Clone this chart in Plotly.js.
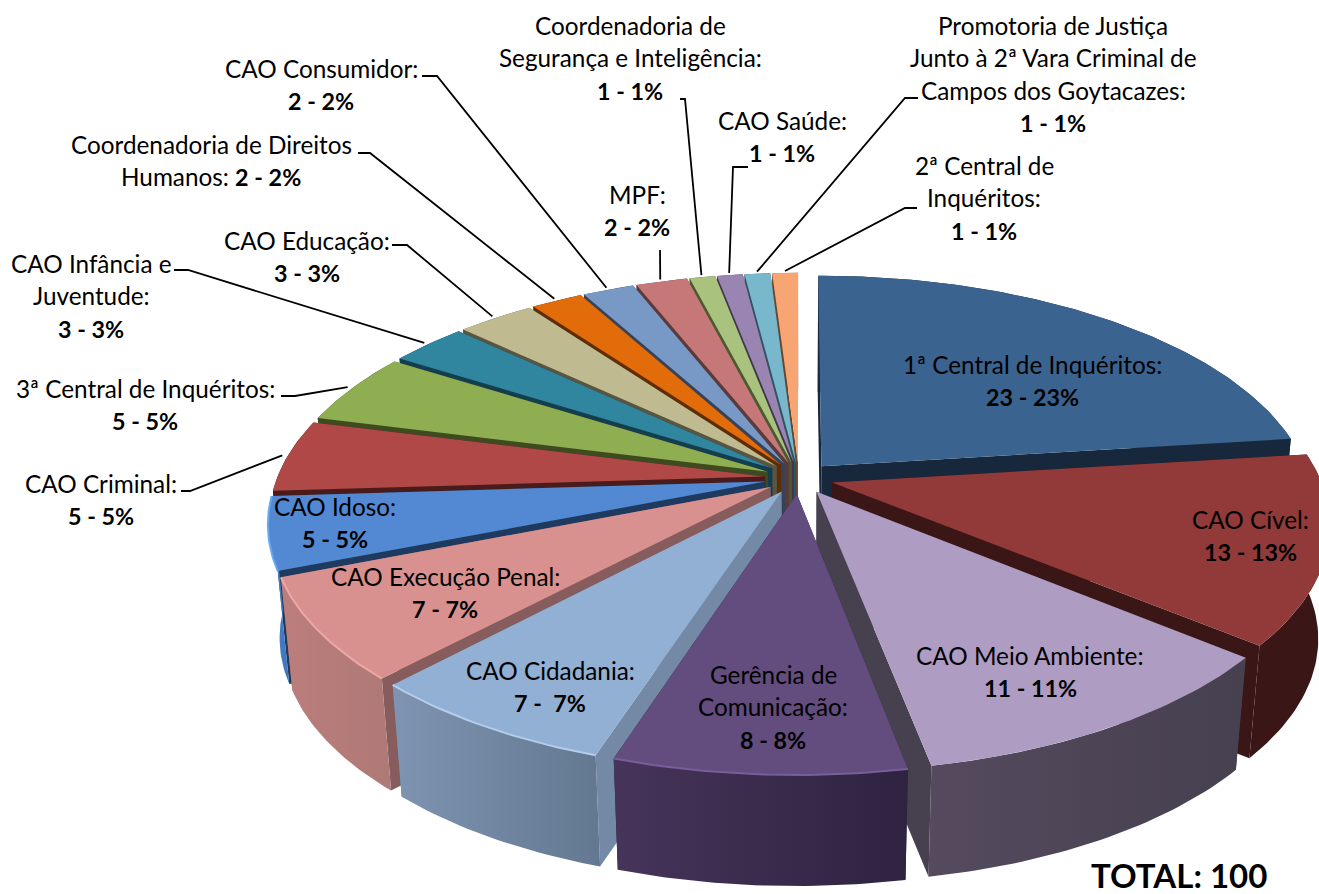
<!DOCTYPE html>
<html><head><meta charset="utf-8">
<script src="https://cdn.plot.ly/plotly-3.0.1.min.js"></script>
<style>html,body{margin:0;padding:0;background:#fff;overflow:hidden}#c{width:1319px;height:894px}</style>
</head><body><div id="c"></div>
<script>
// ---- data ----
const categories = ["1ª Central de Inquéritos","CAO Cível","CAO Meio Ambiente","Gerência de Comunicação","CAO Cidadania","CAO Execução Penal","CAO Idoso","CAO Criminal","3ª Central de Inquéritos","CAO Infância e Juventude","CAO Educação","Coordenadoria de Direitos Humanos","CAO Consumidor","MPF","Coordenadoria de Segurança e Inteligência","CAO Saúde","Promotoria de Justiça Junto à 2ª Vara Criminal de Campos dos Goytacazes","2ª Central de Inquéritos"];
const values = [23,13,11,8,7,7,5,5,5,3,3,2,2,2,1,1,1,1];
const labelLines = [
 ["1ª Central de Inquéritos:","<b>23 - 23%</b>"],
 ["CAO Cível:","<b>13 - 13%</b>"],
 ["CAO Meio Ambiente:","<b>11 - 11%</b>"],
 ["Gerência de","Comunicação:","<b>8 - 8%</b>"],
 ["CAO Cidadania:","<b>7 -  7%</b>"],
 ["CAO Execução Penal:","<b>7 - 7%</b>"],
 ["CAO Idoso:","<b>5 - 5%</b>"],
 ["CAO Criminal:","<b>5 - 5%</b>"],
 ["3ª Central de Inquéritos:","<b>5 - 5%</b>"],
 ["CAO Infância e","Juventude:","<b>3 - 3%</b>"],
 ["CAO Educação:","<b>3 - 3%</b>"],
 ["Coordenadoria de Direitos","Humanos: <b>2 - 2%</b>"],
 ["CAO Consumidor:","<b>2 - 2%</b>"],
 ["MPF:","<b>2 - 2%</b>"],
 ["Coordenadoria de","Segurança e Inteligência:","<b>1 - 1%</b>"],
 ["CAO Saúde:","<b>1 - 1%</b>"],
 ["Promotoria de Justiça","Junto à 2ª Vara Criminal de","Campos dos Goytacazes:","<b>1 - 1%</b>"],
 ["2ª Central de","Inquéritos:","<b>1 - 1%</b>"]
];
const totalText = "<b>TOTAL: 100</b>";

// ---- styles ----
const topColors = ["#3B638F","#923A3A","#AE9CC3","#634C7E","#92AFD4","#D8918F","#5289D2","#AF4846","#8FAE52","#30859F","#C0BA91","#E26B0A","#7898C6","#C67878","#A9C27E","#9A85B2","#78B7CC","#F7A673"];
const edgeColors = ["#17283D","#3A1716","#46404F","#2E2340","#7389A6","#875C5C","#1F3A5F","#4A1B1B","#3E4A20","#143E4D","#585540","#5F2D04","#35435A","#5A3A3A","#4A5A30","#40364E","#2E5563","#6A4630"];
const wallLeft = ["#17283D","#3A1716","#554A5E","#46345A","#7E94B2","#BC7E7C","#4A85CE","#4A1B1B","#3E4A20","#143E4D","#585540","#5F2D04","#35435A","#5A3A3A","#4A5A30","#40364E","#2E5563","#6A4630"];
const wallRight = ["#17283D","#3A1716","#46404F","#2E2340","#637890","#AE7976","#3F74B8","#4A1B1B","#3E4A20","#143E4D","#585540","#5F2D04","#35435A","#5A3A3A","#4A5A30","#40364E","#2E5563","#6A4630"];
const rimColors = [null,null,null,"#7A5E9A","#B5CDEB","#EDA7A5","#6AA8F0",null,null,null,null,null,null,null,null,null,null,null];

// ---- label placement (page pixels) ----
const labelCx = [1032,1250,1030,773,550,445,335,101,145,91,307,211,321,637,630,782,1053,984];
const labelY0 = [364,519,655,674,670,576,506,483,388,263,240,144,68,194,25,120,25,165];
const lineGap = 32.8;
const leaderFrom = [null,null,null,null,null,null,null,[181,491,190],[281,396,295],[174,270,188],[392,245,407],[358,153,370],[422,76,437],[660,250,660],[680,99,685],[748,167,733],[918,98,905],[917,208,905]];

// ---- projection ----
const P = {cx:799, cy:478, rx:488, ry:226.8, k:0.171, e:0.07, h:114, sx:0.978, sy:0.99};
function proj(px,pv,low){
  const s = 1/(1-P.k*pv);
  let dx = P.rx*px*s, dy = P.ry*pv*s;
  if(low){dx*=P.sx; dy=dy*P.sy+P.h;}
  return [P.cx+dx, P.cy+dy];
}
const total = values.reduce((a,b)=>a+b,0);
let acc=0;
const slices = values.map((v,i)=>{
  const a0=acc/total*2*Math.PI; acc+=v; const a1=acc/total*2*Math.PI;
  const m=(a0+a1)/2;
  return {i,a0,a1,m,ox:P.e*Math.sin(m),ov:-P.e*Math.cos(m)};
});
function pt(s,a,r,low){return proj(s.ox+r*Math.sin(a),s.ov-r*Math.cos(a),low);}
function arc(s,low){
  const n=Math.max(2,Math.ceil((s.a1-s.a0)/(Math.PI/180))), o=[];
  for(let j=0;j<=n;j++) o.push(pt(s,s.a0+(s.a1-s.a0)*j/n,1,low));
  return o;
}
function poly(pts,extra){
  return Object.assign({type:'scatter',mode:'lines',x:pts.map(p=>p[0]),y:pts.map(p=>p[1]),fill:'toself',line:{width:0},hoverinfo:'skip',showlegend:false},extra);
}
const traces=[];
[...slices].sort((a,b)=>a.ov-b.ov).forEach(s=>{
  const i=s.i, top=arc(s,false), bot=arc(s,true);
  const apexT=pt(s,0,0,false), apexB=pt(s,0,0,true);
  [s.a0,s.a1].forEach(a=>{
    traces.push(poly([apexT,pt(s,a,1,false),pt(s,a,1,true),apexB,apexT],{name:categories[i]+' edge',fillcolor:edgeColors[i]}));
  });
  traces.push(poly(top.concat([...bot].reverse(),[top[0]]),{name:categories[i]+' wall',fillgradient:{type:'horizontal',colorscale:[[0,wallLeft[i]],[1,wallRight[i]]]}}));
  traces.push(poly([apexT].concat(top,[apexT]),{name:categories[i],fillcolor:topColors[i]}));
  if(rimColors[i]) traces.push({type:'scatter',mode:'lines',x:top.map(p=>p[0]),y:top.map(p=>p[1]),line:{color:rimColors[i],width:2},hoverinfo:'skip',showlegend:false});
});
leaderFrom.forEach((f,i)=>{
  if(!f) return;
  const e=pt(slices[i],slices[i].m,1.012,false);
  traces.push({type:'scatter',mode:'lines',x:[f[0],f[2],e[0]],y:[f[1],f[1],e[1]],line:{color:'#000',width:1.8},hoverinfo:'skip',showlegend:false});
});
const FONT='Lato, Carlito, sans-serif';
const boldSize=23.3, textSize=24.3;
const annotations=[];
labelLines.forEach((lines,i)=>lines.forEach((t,j)=>annotations.push({
  xref:'x',yref:'y',x:labelCx[i],y:labelY0[i]+j*lineGap,
  text:t.replace(/<b>(.*?)<\/b>/g,'<span style="font-size:'+boldSize+'px"><b>$1</b></span>'),
  showarrow:false,xanchor:'center',yanchor:'middle',
  font:{family:FONT,size:textSize,color:'#000'}
})));
annotations.push({xref:'x',yref:'y',x:1179,y:875,text:totalText,showarrow:false,xanchor:'center',yanchor:'middle',font:{family:FONT,size:33,color:'#000'}});
const axis={visible:false,fixedrange:true};
Plotly.newPlot('c',traces,{
  width:1319,height:894,margin:{l:0,r:0,t:0,b:0},paper_bgcolor:'#fff',plot_bgcolor:'#fff',showlegend:false,
  xaxis:Object.assign({range:[0,1319]},axis),
  yaxis:Object.assign({range:[894,0]},axis),
  annotations
},{staticPlot:true,displayModeBar:false});
</script></body></html>
